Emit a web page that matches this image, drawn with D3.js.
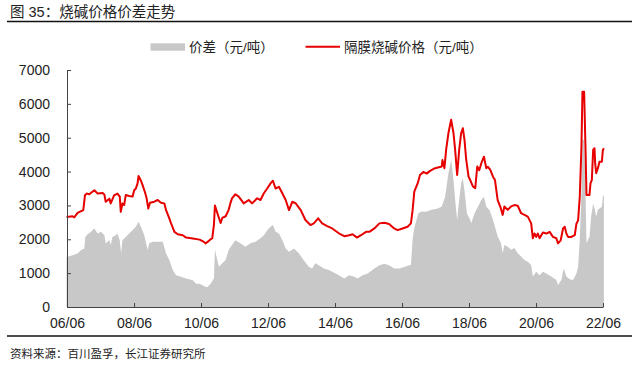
<!DOCTYPE html>
<html>
<head>
<meta charset="utf-8">
<script src="https://cdn.jsdelivr.net/npm/d3@7"></script>
<style>
  html, body { margin: 0; padding: 0; background: #fff; }
  svg { display: block; font-family: "Liberation Sans", Arial, "Noto Sans CJK SC", sans-serif; }
</style>
</head>
<body>
<div id="chart"></div>
<script>
// 隔膜烧碱价格 (red line), decimal years + values (元/吨)
const priceYears = [
  2006.40, 2006.58, 2006.63, 2006.73, 2006.90, 2006.95, 2007.00, 2007.08, 2007.23, 2007.33,
  2007.48, 2007.53, 2007.57, 2007.68, 2007.72, 2007.82, 2007.92, 2007.99, 2008.02, 2008.07,
  2008.12, 2008.17, 2008.27, 2008.37, 2008.42, 2008.47, 2008.52, 2008.55, 2008.62, 2008.67,
  2008.75, 2008.79, 2008.84, 2008.89, 2009.02, 2009.12, 2009.22, 2009.32, 2009.37, 2009.45,
  2009.52, 2009.62, 2009.72, 2009.87, 2009.97, 2010.17, 2010.37, 2010.49, 2010.55, 2010.62,
  2010.70, 2010.75, 2010.80, 2010.83, 2010.90, 2010.95, 2011.00, 2011.05, 2011.15, 2011.24,
  2011.29, 2011.34, 2011.44, 2011.54, 2011.69, 2011.84, 2011.94, 2012.09, 2012.19, 2012.29,
  2012.39, 2012.49, 2012.56, 2012.64, 2012.74, 2012.84, 2012.94, 2013.04, 2013.14, 2013.24,
  2013.39, 2013.53, 2013.68, 2013.78, 2013.91, 2014.03, 2014.18, 2014.33, 2014.54, 2014.69,
  2014.84, 2014.94, 2015.07, 2015.19, 2015.34, 2015.44, 2015.59, 2015.74, 2015.89, 2016.03,
  2016.18, 2016.28, 2016.43, 2016.58, 2016.68, 2016.73, 2016.78, 2016.88, 2016.95, 2017.05,
  2017.15, 2017.25, 2017.40, 2017.60, 2017.62, 2017.68, 2017.73, 2017.80, 2017.88, 2017.95,
  2018.00, 2018.06, 2018.12, 2018.18, 2018.23, 2018.28, 2018.33, 2018.40, 2018.45, 2018.53,
  2018.60, 2018.66, 2018.72, 2018.78, 2018.86, 2018.93, 2018.98, 2019.05, 2019.13, 2019.19,
  2019.27, 2019.35, 2019.42, 2019.47, 2019.57, 2019.67, 2019.77, 2019.87, 2019.97, 2020.07,
  2020.17, 2020.27, 2020.32, 2020.37, 2020.42, 2020.47, 2020.52, 2020.62, 2020.72, 2020.82,
  2020.92, 2021.02, 2021.07, 2021.15, 2021.22, 2021.27, 2021.32, 2021.37, 2021.47, 2021.57,
  2021.62, 2021.67, 2021.72, 2021.77, 2021.80, 2021.85, 2021.89, 2021.92, 2022.01, 2022.04,
  2022.08, 2022.12, 2022.16, 2022.18, 2022.21, 2022.26, 2022.31, 2022.38, 2022.41, 2022.44
];
const priceValues = [
  2660, 2680, 2650, 2780, 2860, 3300, 3350, 3330, 3450, 3350,
  3370, 3320, 3110, 3200, 3060, 3300, 3350, 3260, 2810, 3060,
  3010, 3310, 3280, 3260, 3450, 3500, 3650, 3870, 3730, 3600,
  3360, 3210, 2910, 3080, 3110, 3160, 3080, 3060, 2860, 2660,
  2470, 2220, 2150, 2120, 2050, 2020, 1990, 1930, 1880, 1930,
  2000, 2030, 2430, 3000, 2780, 2630, 2480, 2630, 2680, 2870,
  3060, 3210, 3330, 3260, 3060, 3160, 3060, 3210, 3160, 3360,
  3500, 3650, 3730, 3500, 3550, 3360, 3160, 2860, 3110, 3060,
  2860, 2570, 2420, 2470, 2620, 2470, 2390, 2320, 2170, 2090,
  2120, 2150, 2050, 2120, 2220, 2220, 2320, 2470, 2490, 2450,
  2320, 2270, 2320, 2370, 2470, 2860, 3410, 3650, 3900, 3990,
  3940, 4020, 4100, 4150, 4340, 4100, 4640, 5140, 5530, 5140,
  4640, 3900, 4640, 5140, 5280, 4930, 4350, 3850, 3750, 3560,
  3510, 4150, 4040, 4240, 4440, 4100, 4140, 4050, 3850, 3750,
  3160, 2960, 2720, 2970, 2870, 2970, 3010, 2990, 2770, 2720,
  2670, 2470, 2030, 2170, 2070, 2170, 2030, 2200, 2170, 2220,
  2070, 2030, 1880, 1970, 2320, 2370, 2170, 2070, 2070, 2120,
  2460, 2560, 3260, 4740, 6360, 6360, 4740, 3310, 3310, 3650,
  3750, 4640, 4690, 4240, 3950, 4100, 4290, 4290, 4640, 4690
];

// 价差 (grey area)
const spreadYears = [
  2006.40, 2006.58, 2006.73, 2006.83, 2006.93, 2006.96, 2007.03, 2007.13, 2007.23, 2007.33,
  2007.43, 2007.53, 2007.57, 2007.68, 2007.72, 2007.77, 2007.87, 2007.92, 2007.99, 2008.03,
  2008.07, 2008.17, 2008.27, 2008.37, 2008.47, 2008.55, 2008.62, 2008.72, 2008.82, 2008.87,
  2008.97, 2009.12, 2009.27, 2009.37, 2009.47, 2009.57, 2009.67, 2009.82, 2009.97, 2010.17,
  2010.27, 2010.37, 2010.55, 2010.60, 2010.70, 2010.80, 2010.83, 2010.90, 2010.95, 2011.05,
  2011.15, 2011.24, 2011.34, 2011.44, 2011.59, 2011.74, 2011.89, 2012.04, 2012.19, 2012.29,
  2012.39, 2012.49, 2012.56, 2012.64, 2012.74, 2012.84, 2012.94, 2013.04, 2013.19, 2013.34,
  2013.48, 2013.63, 2013.73, 2013.83, 2013.93, 2014.08, 2014.23, 2014.43, 2014.53, 2014.69,
  2014.84, 2014.99, 2015.09, 2015.24, 2015.39, 2015.59, 2015.74, 2015.89, 2016.03, 2016.18,
  2016.33, 2016.48, 2016.63, 2016.68, 2016.73, 2016.78, 2016.90, 2017.00, 2017.13, 2017.30,
  2017.48, 2017.60, 2017.70, 2017.80, 2017.88, 2017.95, 2018.00, 2018.06, 2018.12, 2018.18,
  2018.23, 2018.30, 2018.35, 2018.45, 2018.48, 2018.58, 2018.68, 2018.78, 2018.86, 2018.93,
  2019.03, 2019.13, 2019.19, 2019.27, 2019.37, 2019.42, 2019.47, 2019.57, 2019.67, 2019.77,
  2019.87, 2019.97, 2020.07, 2020.17, 2020.27, 2020.32, 2020.42, 2020.52, 2020.62, 2020.72,
  2020.87, 2021.02, 2021.07, 2021.17, 2021.24, 2021.32, 2021.42, 2021.52, 2021.62, 2021.67,
  2021.72, 2021.77, 2021.80, 2021.85, 2021.89, 2021.92, 2022.01, 2022.06, 2022.12, 2022.16,
  2022.21, 2022.26, 2022.38, 2022.41, 2022.44
];
const spreadValues = [
  1480, 1530, 1580, 1680, 1730, 2070, 2150, 2220, 2320, 2170,
  2220, 2120, 1880, 1970, 1830, 2070, 2120, 2170, 1970, 1580,
  1970, 2070, 2170, 2270, 2370, 2520, 2370, 2120, 1680, 1880,
  1930, 1930, 1930, 1580, 1380, 1090, 940, 890, 840, 790,
  690, 690, 600, 580, 690, 840, 1690, 1390, 1190, 1290,
  1390, 1680, 1830, 1970, 1880, 1780, 1880, 1930, 2030, 2120,
  2270, 2370, 2420, 2220, 2170, 1980, 1730, 1630, 1730, 1580,
  1380, 1190, 1140, 1290, 1230, 1140, 1090, 990, 940, 840,
  940, 890, 840, 940, 990, 1140, 1235, 1280, 1235, 1140,
  1140, 1185, 1235, 1240, 2000, 2330, 2770, 2820, 2810, 2870,
  2910, 2970, 3260, 3960, 4350, 3750, 3160, 2570, 3160, 3660,
  3800, 3260, 2770, 2570, 2470, 2770, 2960, 3160, 3260, 2960,
  2860, 2570, 2370, 2080, 1880, 1590, 1830, 1780, 1690, 1740,
  1590, 1490, 1390, 1340, 1240, 900, 1040, 940, 1040, 990,
  900, 800, 650, 800, 1140, 900, 820, 800, 990, 1190,
  1980, 3360, 4940, 4940, 3460, 1880, 2080, 2670, 3060, 2910,
  2670, 2870, 2960, 3260, 3310
];

const yTicks = [0, 1000, 2000, 3000, 4000, 5000, 6000, 7000];
const xTickLabels = ['06/06', '08/06', '10/06', '12/06', '14/06', '16/06', '18/06', '20/06', '22/06'];

const titleText = '图 35：烧碱价格价差走势';
const sourceText = '资料来源：百川盈孚，长江证券研究所';
const legendItems = ['价差（元/吨）', '隔膜烧碱价格（元/吨）'];

const width = 641, height = 376;
const margin = { top: 70, right: 38, bottom: 69, left: 67 };
const innerW = width - margin.left - margin.right;
const innerH = height - margin.top - margin.bottom;

// decimal year -> Date
const toDate = y => {
    const yr = Math.floor(y);
    const start = new Date(yr, 0, 1), end = new Date(yr + 1, 0, 1);
    return new Date(+start + (y - yr) * (end - start));
};
const parseTick = d3.timeParse('%y/%m');

const price = priceYears.map((y, i) => ({ date: toDate(y), value: priceValues[i] }));
const spread = spreadYears.map((y, i) => ({ date: toDate(y), value: spreadValues[i] }));
const tickDates = xTickLabels.map(parseTick);

const svg = d3.select('#chart')
    .append('svg')
    .attr('width', width)
    .attr('height', height);

// Title + rules
svg.append('text')
    .attr('x', 10).attr('y', 17)
    .attr('fill', '#222')
    .attr('font-size', '14.5px')
    .text(titleText);

svg.append('line')
    .attr('x1', 7).attr('x2', 632)
    .attr('y1', 21.5).attr('y2', 21.5)
    .attr('stroke', '#111').attr('stroke-width', 1.3);

svg.append('line')
    .attr('x1', 7).attr('x2', 632)
    .attr('y1', 336).attr('y2', 336)
    .attr('stroke', '#111').attr('stroke-width', 1.3);

svg.append('text')
    .attr('x', 10).attr('y', 358)
    .attr('fill', '#222')
    .attr('font-size', '11.5px')
    .text(sourceText);

// Legend
const legend = svg.append('g').attr('font-size', '13.5px').attr('fill', '#222');
legend.append('rect')
    .attr('x', 150.5).attr('y', 43.3)
    .attr('width', 34.5).attr('height', 7.4)
    .attr('fill', '#c8c8c8');
legend.append('text')
    .attr('x', 189).attr('y', 47).attr('dy', '0.35em')
    .text(legendItems[0]);
legend.append('line')
    .attr('x1', 305.5).attr('x2', 340)
    .attr('y1', 46.8).attr('y2', 46.8)
    .attr('stroke', '#e60000').attr('stroke-width', 2);
legend.append('text')
    .attr('x', 344).attr('y', 47).attr('dy', '0.35em')
    .text(legendItems[1]);

const chart = svg.append('g')
    .attr('transform', `translate(${margin.left},${margin.top})`);

const xScale = d3.scaleTime()
    .domain([tickDates[0], tickDates[tickDates.length - 1]])
    .range([0, innerW]);

const yScale = d3.scaleLinear()
    .domain([0, 7000])
    .range([innerH, 0]);

// Spread area
const area = d3.area()
    .x(d => xScale(d.date))
    .y0(yScale(0))
    .y1(d => yScale(d.value));

chart.append('path')
    .datum(spread)
    .attr('d', area)
    .attr('fill', '#c8c8c8');

// Price line
const line = d3.line()
    .x(d => xScale(d.date))
    .y(d => yScale(d.value));

chart.append('path')
    .datum(price)
    .attr('d', line)
    .attr('fill', 'none')
    .attr('stroke', '#e60000')
    .attr('stroke-width', 2)
    .attr('stroke-linejoin', 'round');

// Axes (ticks point inward)
chart.append('g')
    .attr('transform', `translate(0,${innerH})`)
    .call(d3.axisBottom(xScale)
        .tickValues(tickDates)
        .tickFormat((d, i) => xTickLabels[i])
        .tickSizeInner(-4).tickSizeOuter(0).tickPadding(11))
    .call(ax => {
        ax.selectAll('text').attr('fill', '#222').attr('font-size', '14px').attr('font-family', null);
        ax.selectAll('line,path').attr('stroke', '#444');
    });

chart.append('g')
    .call(d3.axisLeft(yScale)
        .tickValues(yTicks)
        .tickFormat(d3.format('d'))
        .tickSizeInner(-4).tickSizeOuter(0).tickPadding(17))
    .call(ax => {
        ax.selectAll('text').attr('fill', '#222').attr('font-size', '14px').attr('font-family', null);
        ax.selectAll('line,path').attr('stroke', '#444');
    });
</script>
</body>
</html>
